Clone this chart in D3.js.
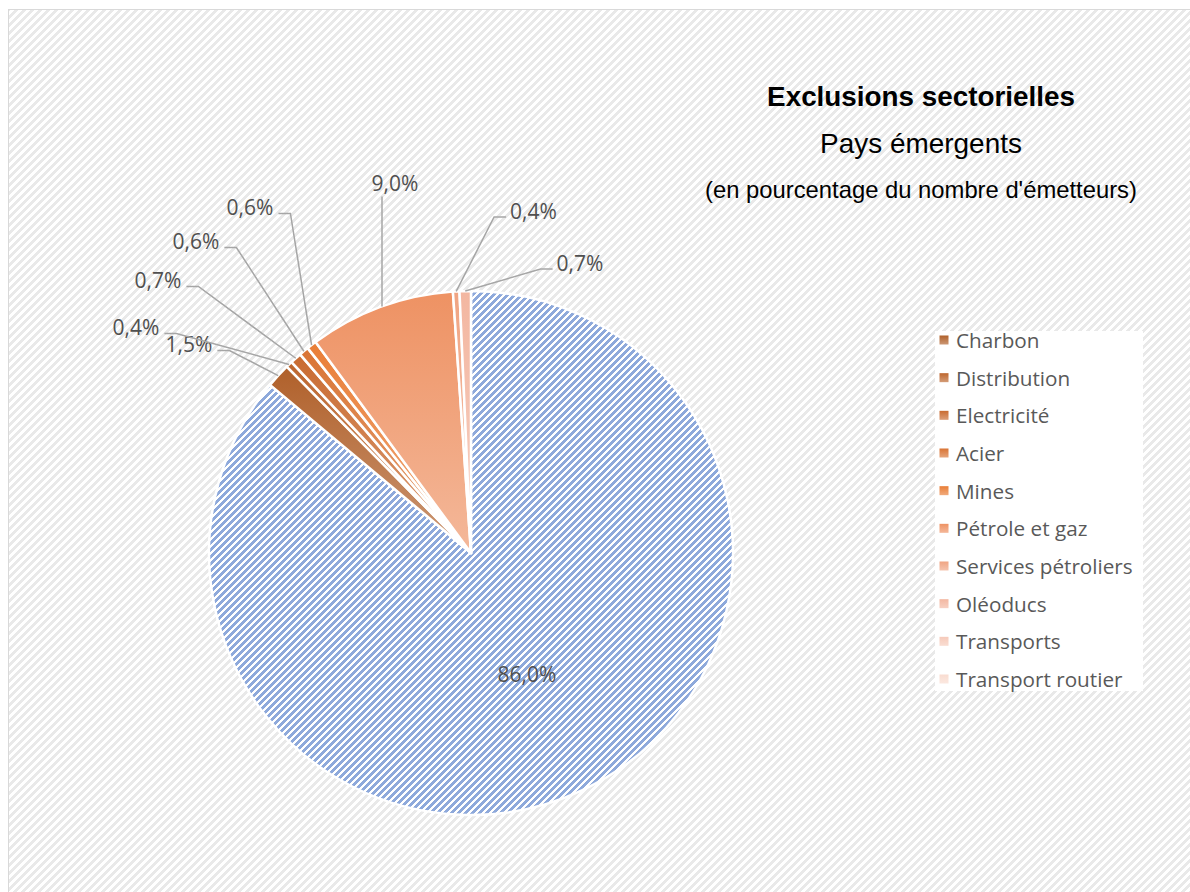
<!DOCTYPE html>
<html>
<head>
<meta charset="utf-8">
<script src="https://cdn.jsdelivr.net/npm/d3@7"></script>
<style>
  html, body { margin: 0; padding: 0; background: #ffffff; }
  svg { display: block; }
</style>
</head>
<body>
<svg id="chart" width="1190" height="892"></svg>
<script>
// Sector exclusions, emerging markets (share of issuers, %)
const categories = ["Non exclus", "Charbon", "Distribution", "Electricité", "Acier", "Mines",
  "Pétrole et gaz", "Services pétroliers", "Oléoducs", "Transports", "Transport routier"];
const values = [86.0, 1.5, 0.4, 0.7, 0.6, 0.6, 9.0, 0.4, 0.7, 0, 0];
const legendCategories = categories.slice(1);
const titleLines = ["Exclusions sectorielles", "Pays émergents", "(en pourcentage du nombre d'émetteurs)"];

// Slice colours (top of each gradient)
const sliceColors = ["#8EA9DB", "#B0602A", "#BD662E", "#C96B31", "#D97434", "#E97E37",
  "#EE9263", "#F0A482", "#F3B7A1", "#F6CABA", "#F9DCD0"];

// Label text offsets from the pie centre (dx, dy)
const labelOffsets = [[56, 121], [-282, -209], [-335, -226], [-313, -273], [-275, -312],
  [-221, -346], [-76, -370.5], [62.5, -342.5], [109, -290.5], null, null];

const W = 1190, H = 892;
const cx = 471, cy = 553, R = 262;
const fmt = v => d3.format(".1f")(v).replace(".", ",") + "%";

const svg = d3.select("#chart");
const defs = svg.append("defs");

// Pixel hatch patterns ("/" diagonals)
function hatch(id, period, width, color) {
  const p = defs.append("pattern").attr("id", id)
    .attr("patternUnits", "userSpaceOnUse").attr("width", period).attr("height", period);
  p.append("rect").attr("width", period).attr("height", period).attr("fill", "#ffffff");
  for (let y = 0; y < period; y++) {
    for (let x = 0; x < period; x++) {
      if ((x + y) % period < width) {
        p.append("rect").attr("x", x).attr("y", y).attr("width", 1).attr("height", 1)
          .attr("fill", color).attr("shape-rendering", "crispEdges");
      }
    }
  }
}
hatch("bgHatch", 8, 4, "#E9E9E9");
hatch("blueHatch", 7, 4, "#8EA9DB");

// Vertical gradients for the sector slices
sliceColors.forEach((c, i) => {
  const g = defs.append("linearGradient").attr("id", "grad" + i)
    .attr("x1", 0).attr("y1", 0).attr("x2", 0).attr("y2", 1);
  g.append("stop").attr("offset", "0%").attr("stop-color", c);
  g.append("stop").attr("offset", "100%").attr("stop-color", d3.interpolateRgb(c, "#ffffff")(0.35));
});

// Chart area
svg.append("rect").attr("x", 8.5).attr("y", 9.5).attr("width", W).attr("height", H)
  .attr("fill", "url(#bgHatch)").attr("stroke", "#D9D9D9").attr("stroke-width", 1);

const data = categories.map((name, i) => ({ name, value: values[i], i }));
const pie = d3.pie().sort(null).value(d => d.value).startAngle(0).endAngle(2 * Math.PI);
const arcs = pie(data);
const arc = d3.arc().innerRadius(0).outerRadius(R);

const g = svg.append("g").attr("transform", `translate(${cx},${cy})`);
g.selectAll("path.slice").data(arcs.filter(a => a.data.value > 0)).join("path")
  .attr("class", "slice")
  .attr("d", arc)
  .attr("fill", d => d.data.i === 0 ? "url(#blueHatch)" : `url(#grad${d.data.i})`)
  .attr("stroke", "#ffffff").attr("stroke-width", 2.5).attr("stroke-linejoin", "round");

// Data labels with leader lines
const labelFont = "'Open Sans', 'Noto Sans', sans-serif";
const lg = svg.append("g");
arcs.forEach(a => {
  const off = labelOffsets[a.data.i];
  if (!off || a.data.value <= 0) return;
  const lx = cx + off[0], ly = cy + off[1];
  const t = lg.append("text").attr("x", lx).attr("y", ly)
    .attr("text-anchor", "middle").attr("dominant-baseline", "central")
    .attr("font-family", labelFont).attr("font-size", 21).attr("fill", "#505050")
    .text(fmt(a.data.value));
  if (a.data.i === 0) return;
  const w = t.node().getComputedTextLength();
  const mid = (a.startAngle + a.endAngle) / 2;
  // vertical drop from the label if it lands on this slice
  const dropX = lx - 13;
  const dropAng = Math.asin(Math.max(-1, Math.min(1, (dropX - cx) / R)));
  const dropA = dropAng < 0 ? dropAng + 2 * Math.PI : dropAng;
  let pts;
  if (dropA > a.startAngle && dropA < a.endAngle) {
    const ey = cy - Math.sqrt(R * R - (dropX - cx) ** 2);
    pts = [[dropX, ly + 14], [dropX, ey]];
  } else {
    const ex = cx + R * Math.sin(mid), ey = cy - R * Math.cos(mid);
    const yy = ly + 6.5;
    if (lx < ex) {
      const x0 = lx + w / 2 + 5;
      pts = [[x0, yy], [x0 + 12, yy], [ex, ey]];
    } else {
      const x0 = lx - w / 2 - 4;
      pts = [[x0, yy], [x0 - 12, yy], [ex, ey]];
    }
  }
  lg.append("path").attr("d", d3.line()(pts)).attr("fill", "none")
    .attr("stroke", "#A6A6A6").attr("stroke-width", 1.5);
});

// Titles, fitted to their measured widths
const titleSpecs = [
  { text: titleLines[0], y: 96, width: 308, weight: "bold" },
  { text: titleLines[1], y: 143, width: 202, weight: "normal" },
  { text: titleLines[2], y: 189, width: 432, weight: "normal" }
];
titleSpecs.forEach(s => {
  const t = svg.append("text").attr("x", 921).attr("y", s.y)
    .attr("text-anchor", "middle").attr("dominant-baseline", "central")
    .attr("font-family", "'Liberation Sans', Arial, sans-serif")
    .attr("font-weight", s.weight).attr("font-size", 100).attr("fill", "#000000")
    .text(s.text);
  const w = t.node().getComputedTextLength();
  t.attr("font-size", 100 * s.width / w);
});

// Legend
const legend = svg.append("g");
legend.append("rect").attr("x", 935).attr("y", 331).attr("width", 208).attr("height", 360)
  .attr("fill", "#ffffff");
const rowY = d3.scalePoint().domain(legendCategories).range([340, 679]);
legendCategories.forEach((name, k) => {
  const i = k + 1;
  const y = rowY(name);
  legend.append("rect").attr("x", 939.5).attr("y", y - 4.5).attr("width", 9).attr("height", 9)
    .attr("fill", `url(#grad${i})`);
  legend.append("text").attr("x", 956).attr("y", y)
    .attr("dominant-baseline", "central")
    .attr("font-family", labelFont).attr("font-size", 20.7).attr("fill", "#595959")
    .text(name);
});
</script>
</body>
</html>
